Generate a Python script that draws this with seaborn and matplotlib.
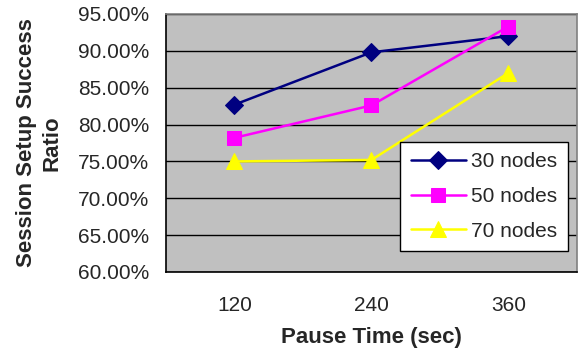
import pandas as pd
import matplotlib.pyplot as plt
import matplotlib.ticker as mticker
import seaborn as sns

pause_times = ["120", "240", "360"]
nodes_30 = [82.7, 89.8, 92.0]
nodes_50 = [78.2, 82.6, 93.3]
nodes_70 = [75.0, 75.2, 87.0]
series_names = ["30 nodes", "50 nodes", "70 nodes"]

df = pd.DataFrame({
    "pause": pause_times * 3,
    "ratio": nodes_30 + nodes_50 + nodes_70,
    "series": [s for s in series_names for _ in pause_times],
})

sns.set_style("white")
plt.rcParams["font.family"] = ["Liberation Sans", "DejaVu Sans"]

colors = {"30 nodes": "#000080", "50 nodes": "#FF00FF", "70 nodes": "#FFFF00"}
markers = {"30 nodes": "D", "50 nodes": "s", "70 nodes": "^"}
msizes = {"30 nodes": 9, "50 nodes": 10.5, "70 nodes": 11.5}

fig = plt.figure(figsize=(5.85, 3.56), dpi=100)
ax = fig.add_axes([0.2838, 0.236, 0.7022, 0.7247])
ax.set_facecolor("#C0C0C0")

for name in series_names:
    sub = df[df["series"] == name]
    sns.lineplot(data=sub, x="pause", y="ratio", ax=ax, color=colors[name],
                 marker=markers[name], markersize=msizes[name],
                 markeredgecolor=colors[name], linewidth=1.8, label=name,
                 sort=False)

ax.set_ylim(60, 95)
ax.set_xlim(-0.5, 2.5)
ax.yaxis.set_major_locator(mticker.MultipleLocator(5))
ax.yaxis.set_major_formatter(mticker.FuncFormatter(lambda v, p: f"{v:.2f}%"))
ax.yaxis.grid(True, color="black", linewidth=1)
ax.set_axisbelow(True)

ax.xaxis.set_minor_locator(mticker.FixedLocator([-0.5, 0.5, 1.5, 2.5]))
ax.tick_params(axis="x", which="major", length=0, labelsize=15, pad=17)
ax.tick_params(axis="x", which="minor", length=5, width=1, color="black", direction="out")
ax.tick_params(axis="y", length=5, width=1, color="black", direction="out",
               labelsize=15, pad=7)

for side in ["left", "bottom"]:
    ax.spines[side].set_color("black")
    ax.spines[side].set_linewidth(1.2)
for side in ["top", "right"]:
    ax.spines[side].set_color("#808080")
    ax.spines[side].set_linewidth(1.2)

ax.set_xlabel("Pause Time (sec)", fontsize=16, fontweight="bold", labelpad=9)
ax.set_ylabel("Session Setup Success\nRatio", fontsize=16, fontweight="bold",
              labelpad=11, linespacing=1.3)

leg = ax.legend(loc="upper right", bbox_to_anchor=(0.978, 0.504), fontsize=15,
                frameon=True, fancybox=False, framealpha=1, edgecolor="black",
                handlelength=2.65, handletextpad=0.25, labelspacing=0.75,
                borderpad=0.5, borderaxespad=0)
leg.get_frame().set_linewidth(1)

plt.savefig("out.png", dpi=100)
